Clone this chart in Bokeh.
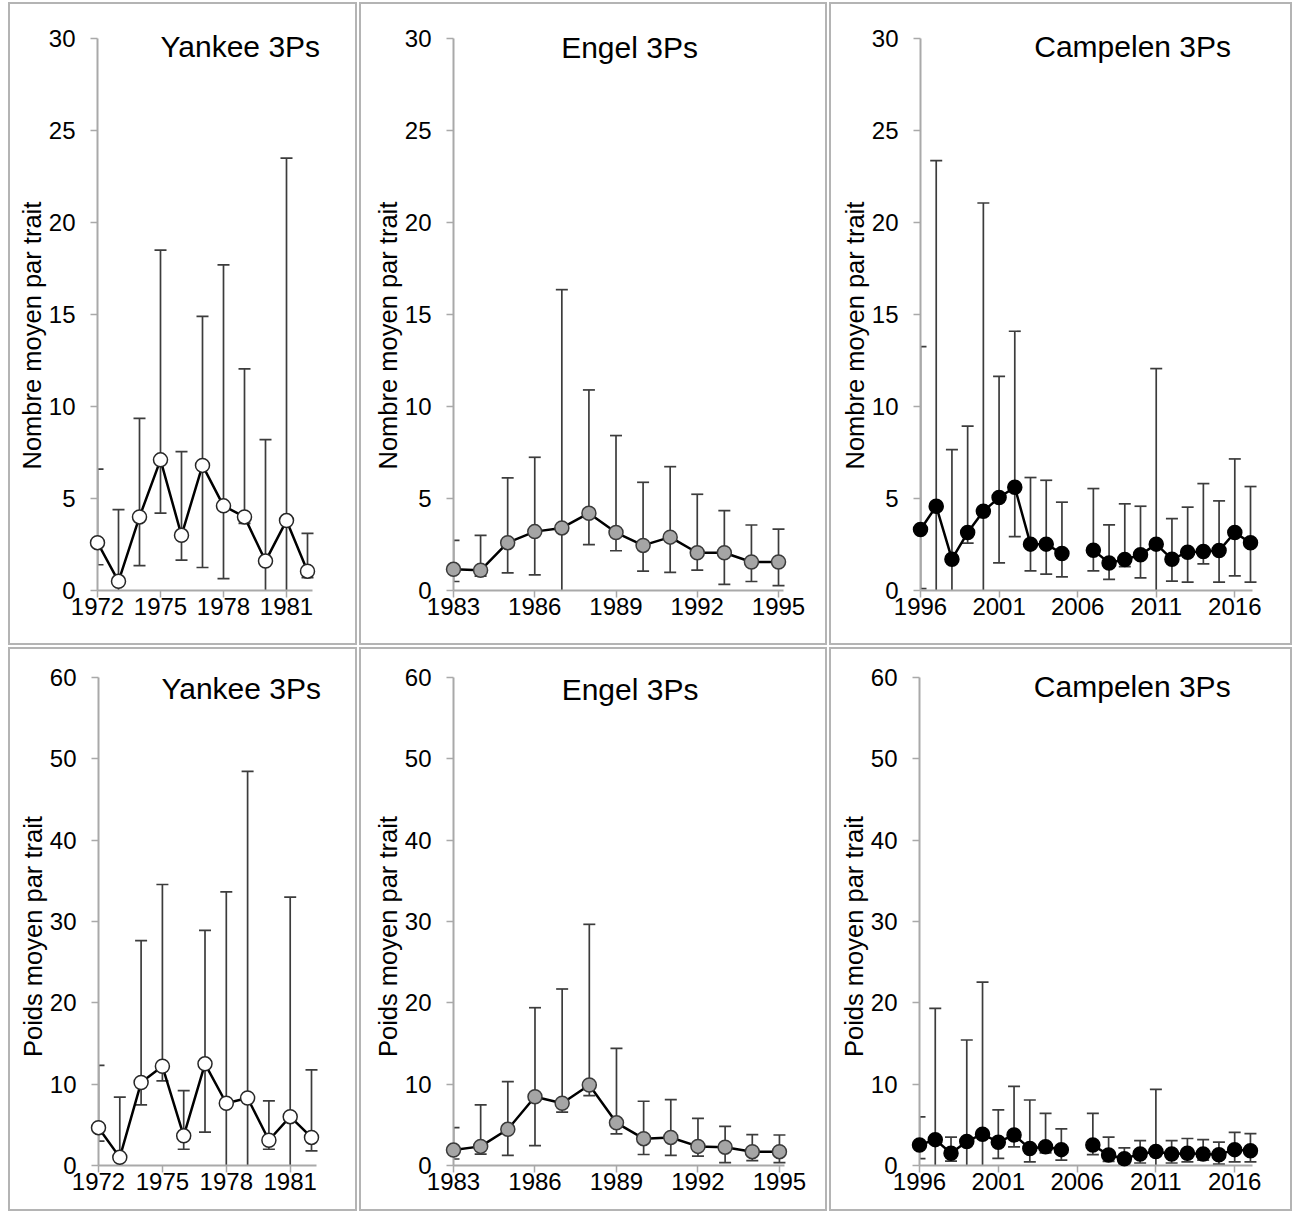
import numpy as np
from bokeh.plotting import figure
from bokeh.models import FixedTicker, Label, Spacer, Title
from bokeh.layouts import row, column
from bokeh.embed import file_html
from bokeh.resources import INLINE

# ---------------- data ----------------
yankee_years = list(range(1972, 1983))
engel_years = list(range(1983, 1996))
campelen_years = list(range(1996, 2018))

yankee_num = [2.6, 0.5, 4.0, 7.1, 3.0, 6.8, 4.6, 4.0, 1.6, 3.8, 1.05]
yankee_num_hi = [6.6, 4.4, 9.35, 18.5, 7.55, 14.9, 17.7, 12.05, 8.2, 23.5, 3.1]
yankee_num_lo = [1.4, 0.0, 1.35, 4.2, 1.65, 1.25, 0.65, 3.65, 0.0, 0.0, 0.7]

engel_num = [1.15, 1.1, 2.6, 3.2, 3.4, 4.2, 3.15, 2.45, 2.9, 2.05, 2.05, 1.55, 1.55]
engel_num_hi = [2.72, 3.0, 6.12, 7.24, 16.35, 10.9, 8.42, 5.88, 6.73, 5.23, 4.34, 3.56, 3.34]
engel_num_lo = [0.49, 0.78, 0.96, 0.85, 0.0, 2.49, 2.16, 1.05, 0.98, 1.11, 0.33, 0.49, 0.27]

campelen_num = [3.31, 4.58, 1.70, 3.15, 4.31, 5.05, 5.61, 2.52, 2.52, 2.01, None,
                2.19, 1.50, 1.68, 1.94, 2.52, 1.70, 2.08, 2.12, 2.17, 3.15, 2.59]
campelen_num_hi = [13.25, 23.36, 7.66, 8.93, 21.06, 11.64, 14.09, 6.14, 5.99, 4.80, None,
                   5.54, 3.57, 4.71, 4.58, 12.06, 3.91, 4.53, 5.81, 4.87, 7.15, 5.65]
campelen_num_lo = [0.1, 0.0, 0.0, 2.57, 0.0, 1.50, 2.93, 1.07, 0.89, 0.74, None,
                   1.07, 0.60, 1.3, 0.69, 0.0, 0.51, 0.45, 1.45, 0.45, 0.80, 0.45]

yankee_wt = [4.65, 1.0, 10.2, 12.2, 3.65, 12.5, 7.65, 8.3, 3.1, 6.0, 3.45]
yankee_wt_hi = [12.3, 8.4, 27.65, 34.55, 9.2, 28.9, 33.65, 48.45, 7.95, 33.0, 11.75]
yankee_wt_lo = [3.0, 0.0, 7.45, 10.4, 2.0, 4.1, 0.0, 0.0, 2.0, 0.0, 1.8]

engel_wt = [1.9, 2.35, 4.45, 8.45, 7.65, 9.9, 5.25, 3.3, 3.45, 2.35, 2.25, 1.7, 1.7]
engel_wt_hi = [4.65, 7.45, 10.3, 19.4, 21.7, 29.65, 14.4, 7.9, 8.1, 5.8, 4.8, 3.8, 3.75]
engel_wt_lo = [0.8, 1.4, 1.25, 2.45, 6.55, 8.6, 3.9, 1.35, 1.25, 1.15, 0.35, 0.6, 0.35]

campelen_wt = [2.52, 3.18, 1.50, 2.96, 3.85, 2.87, 3.76, 2.08, 2.30, 1.95, None,
               2.52, 1.28, 0.84, 1.41, 1.72, 1.41, 1.50, 1.41, 1.33, 1.95, 1.81]
campelen_wt_hi = [5.97, 19.32, 3.49, 15.43, 22.55, 6.85, 9.73, 8.05, 6.41, 4.51, None,
                  6.41, 3.49, 2.17, 3.05, 9.37, 3.05, 3.32, 3.18, 2.87, 4.07, 3.93]
campelen_wt_lo = [0.84, 0.0, 0.53, 0.0, 0.0, 0.88, 2.30, 0.44, 1.55, 0.66, None,
                  1.33, 0.5, 0.2, 0.31, 0.0, 0.31, 0.44, 0.66, 0.18, 0.44, 0.44]

yankee_ticks = [1972, 1975, 1978, 1981]
engel_ticks = [1983, 1986, 1989, 1992, 1995]
campelen_ticks = [1996, 2001, 2006, 2011, 2016]
num_ticks = [0, 5, 10, 15, 20, 25, 30]
wt_ticks = [0, 10, 20, 30, 40, 50, 60]

title_yankee = "Yankee 3Ps"
title_engel = "Engel 3Ps"
title_campelen = "Campelen 3Ps"
label_num = "Nombre moyen par trait"
label_wt = "Poids moyen par trait"

FONT = "Liberation Sans"
AXIS_COLOR = "#a9a9a9"
ERR_COLOR = "#3c3c3c"
BORDER = "2px solid #b4b4b4"


def arr(v):
    return np.array([np.nan if a is None else a for a in v], dtype=float)


def make_panel(years, mean, hi, lo, xticks, yticks, ymax, title, ylabel,
               fill, mline, cfg):
    # ox, oy: page position of the canvas origin (inside the 2px border)
    ox, oy, W, H = cfg["ox"], cfg["oy"], cfg["W"], cfg["H"]
    ax_px, ppy = cfg["ax_px"], cfg["ppy"]
    zero_py, top_py = cfg["zero_py"], cfg["top_py"]
    y0 = years[0]
    ppu = (zero_py - top_py) / ymax

    fl = ax_px
    fr = ax_px + (years[-1] - y0) * ppy + 24
    ft = top_py - 14
    fb = zero_py

    def dx(px):
        return y0 + (px - ax_px) / ppy

    def dy(py):
        return (zero_py - py) / ppu

    p = figure(width=W, height=H, output_backend="svg", toolbar_location=None,
               x_range=(dx(fl), dx(fr)), y_range=(dy(fb), dy(ft)),
               min_border_left=int(round(fl - ox)),
               min_border_right=int(round(ox + W - fr)),
               min_border_top=int(round(ft - oy)),
               min_border_bottom=int(round(oy + H - fb)),
               styles={"border": BORDER})
    p.outline_line_color = None
    p.xgrid.visible = False
    p.ygrid.visible = False
    p.background_fill_color = "white"
    p.border_fill_color = "white"

    for ax in (p.xaxis[0], p.yaxis[0]):
        ax.axis_line_color = AXIS_COLOR
        ax.axis_line_width = 2
        ax.major_tick_line_color = AXIS_COLOR
        ax.major_tick_line_width = 1.5
        ax.major_tick_out = 7
        ax.major_tick_in = 0
        ax.minor_tick_line_color = None
        ax.major_label_text_font = FONT
        ax.major_label_text_font_size = "24px"
        ax.major_label_text_color = "black"
    p.xaxis[0].bounds = (y0, cfg["x_end"])
    p.yaxis[0].bounds = (0, ymax)
    p.xaxis[0].ticker = FixedTicker(ticks=xticks)
    p.yaxis[0].ticker = FixedTicker(ticks=yticks)
    p.xaxis[0].major_label_standoff = 0
    p.yaxis[0].major_label_standoff = 15

    x = np.array(years, dtype=float)
    m, h, l = arr(mean), arr(hi), arr(lo)
    ok = ~np.isnan(m)

    # error bars
    p.segment(x0=x[ok], y0=l[ok], x1=x[ok], y1=h[ok],
              line_color=ERR_COLOR, line_width=1.7)
    p.scatter(x[ok], h[ok], marker="dash", size=12,
              line_color=ERR_COLOR, line_width=1.7)
    lok = ok & (np.nan_to_num(l) > 0)
    p.scatter(x[lok], l[lok], marker="dash", size=12,
              line_color=ERR_COLOR, line_width=1.7)

    # series
    p.line(x, m, line_color="black", line_width=2.5)
    p.scatter(x[ok], m[ok], marker="circle", size=14,
              fill_color=fill, line_color=mline, line_width=1.5,
              level="overlay")

    p.add_layout(Label(x=cfg["tx"], y=cfg["ty"], text=title,
                       text_font=FONT, text_font_size="30px",
                       text_align="center", text_baseline="middle",
                       text_color="black", level="overlay"))

    # vertical axis title, starting at the same height as the original
    p.add_layout(Title(text=ylabel, align="left", offset=fb - cfg["lstart"],
                       standoff=0, text_font=FONT, text_font_size="25.5px",
                       text_font_style="normal", text_color="black"), "left")
    return p


# page geometry: canvas origins (outer box + 2px border)
top = dict(oy=4, H=643, zero_py=590, top_py=37.5, lstart=469)
bot = dict(oy=649, H=564, zero_py=1165.5, top_py=676.5, lstart=1057)

c1 = dict(ox=10, W=349)
c2 = dict(ox=361, W=468)
c3 = dict(ox=831, W=463)

p1 = make_panel(yankee_years, yankee_num, yankee_num_hi, yankee_num_lo,
                yankee_ticks, num_ticks, 30, title_yankee, label_num,
                "white", "#262626",
                dict(**top, **c1, ax_px=97, ppy=21.0, x_end=1982.25,
                     tx=1978.8, ty=29.55))
p2 = make_panel(engel_years, engel_num, engel_num_hi, engel_num_lo,
                engel_ticks, num_ticks, 30, title_engel, label_num,
                "#a5a5a5", "#3a3a3a",
                dict(**top, **c2, ax_px=452.5, ppy=27.1, x_end=1995.2,
                     tx=1989.5, ty=29.5))
p3 = make_panel(campelen_years, campelen_num, campelen_num_hi, campelen_num_lo,
                campelen_ticks, num_ticks, 30, title_campelen, label_num,
                "black", "black",
                dict(**top, **c3, ax_px=920, ppy=15.72, x_end=2017.1,
                     tx=2009.5, ty=29.55))
p4 = make_panel(yankee_years, yankee_wt, yankee_wt_hi, yankee_wt_lo,
                yankee_ticks, wt_ticks, 60, title_yankee, label_wt,
                "white", "#262626",
                dict(**bot, **c1, ax_px=98.5, ppy=21.3, x_end=1982.25,
                     tx=1978.7, ty=58.6))
p5 = make_panel(engel_years, engel_wt, engel_wt_hi, engel_wt_lo,
                engel_ticks, wt_ticks, 60, title_engel, label_wt,
                "#a5a5a5", "#3a3a3a",
                dict(**bot, **c2, ax_px=453.5, ppy=27.1, x_end=1995.2,
                     tx=1989.5, ty=58.5))
p6 = make_panel(campelen_years, campelen_wt, campelen_wt_hi, campelen_wt_lo,
                campelen_ticks, wt_ticks, 60, title_campelen, label_wt,
                "black", "black",
                dict(**bot, **c3, ax_px=919.5, ppy=15.72, x_end=2017.1,
                     tx=2009.5, ty=58.9))

row1 = row(Spacer(width=6, height=10), p1, p2, p3, spacing=2)
row2 = row(Spacer(width=6, height=10), p4, p5, p6, spacing=2)
layout = column(Spacer(width=10, height=0), row1, row2, spacing=2)

open("out.html", "w").write(file_html(layout, INLINE))
